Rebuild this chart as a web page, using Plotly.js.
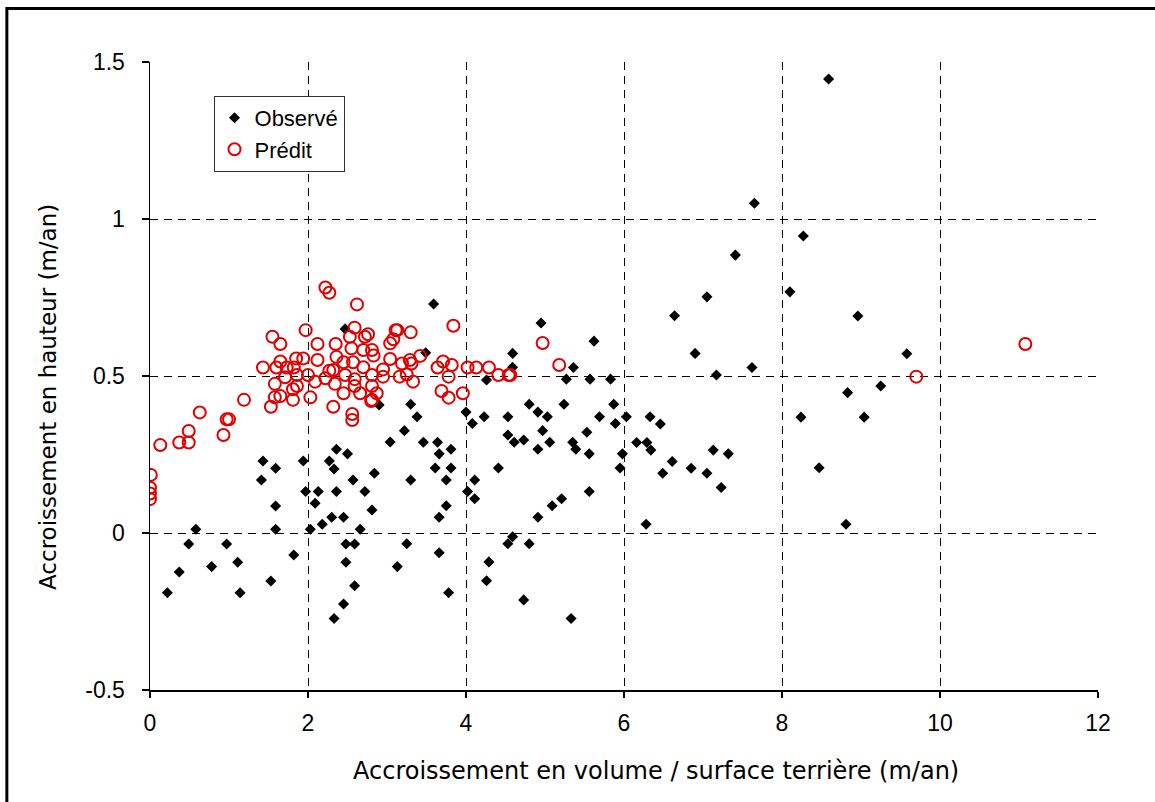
<!DOCTYPE html>
<html>
<head>
<meta charset="utf-8">
<script src="https://cdn.plot.ly/plotly-3.0.1.min.js"></script>
<style>html,body{margin:0;padding:0;background:#fff;}#chart{width:1155px;height:802px;}</style>
</head>
<body>
<div id="chart"></div>
<script>
// Observé (black diamonds)
const obsX = [1.43,1.59,1.94,2.27,2.36,2.50,2.33,1.41,1.97,2.13,2.36,2.57,2.72,2.84,1.59,2.09,2.30,2.45,2.81,2.18,
  0.58,1.59,2.03,2.66,0.49,0.97,2.48,2.59,1.82,0.37,0.78,1.11,2.48,1.53,2.59,0.22,1.14,2.45,2.33,2.90,
  3.04,4.26,3.30,3.38,3.22,3.46,3.64,3.66,3.81,3.61,3.81,3.30,3.75,4.00,4.08,4.23,4.53,4.80,4.91,5.03,
  5.24,5.69,5.87,5.89,6.03,4.53,4.61,4.73,4.97,5.06,4.91,5.35,5.39,5.53,5.56,5.98,5.95,4.41,4.11,4.02,
  4.11,3.75,3.66,5.21,5.09,4.91,5.56,3.25,3.66,3.13,3.78,4.29,4.26,4.53,4.80,4.59,4.73,5.33,
  7.05,6.64,5.62,6.90,7.62,7.17,5.36,5.27,5.57,5.83,6.33,6.46,6.16,6.29,6.34,6.61,6.49,6.85,7.05,7.13,
  7.32,7.23,6.28,7.65,7.41,8.27,8.59,8.10,8.96,8.24,8.83,9.25,9.58,9.04,8.47,8.81,4.95,3.59,4.59,4.59,
  3.49,2.47];
const obsY = [0.229,0.206,0.229,0.229,0.267,0.252,0.204,0.169,0.132,0.132,0.132,0.169,0.132,0.190,0.086,0.095,0.050,0.050,0.073,0.028,
  0.012,0.012,0.012,0.012,-0.035,-0.035,-0.035,-0.035,-0.070,-0.124,-0.107,-0.093,-0.093,-0.153,-0.168,-0.190,-0.190,-0.226,-0.272,0.408,
  0.290,0.487,0.410,0.370,0.326,0.289,0.289,0.252,0.267,0.207,0.207,0.169,0.169,0.385,0.349,0.370,0.370,0.410,0.385,0.370,
  0.410,0.370,0.410,0.349,0.370,0.312,0.289,0.296,0.326,0.289,0.267,0.289,0.267,0.321,0.252,0.252,0.207,0.207,0.169,0.132,
  0.109,0.087,0.050,0.109,0.087,0.050,0.132,-0.034,-0.063,-0.107,-0.190,-0.092,-0.152,-0.034,-0.034,-0.012,-0.213,-0.272,
  0.752,0.692,0.611,0.572,0.527,0.503,0.527,0.490,0.490,0.490,0.370,0.347,0.288,0.288,0.264,0.228,0.190,0.206,0.190,0.264,
  0.252,0.145,0.028,1.050,0.885,0.946,1.446,0.768,0.691,0.369,0.447,0.468,0.571,0.369,0.208,0.028,0.669,0.729,0.572,0.528,
  0.574,0.650];

// Prédit (red open circles)
const predX = [2.22,2.27,1.97,1.55,1.65,2.12,2.35,1.43,1.60,1.65,1.73,1.82,1.85,1.94,2.12,2.27,2.36,1.71,1.86,2.00,
  2.09,2.22,1.58,1.86,1.81,1.65,1.58,1.53,1.81,2.03,2.32,1.19,0.63,0.97,1.00,0.93,0.49,0.49,0.37,0.13,
  0.01,0.00,0.00,0.00,2.56,2.56,2.80,2.62,3.84,2.59,2.76,3.11,3.13,3.30,2.53,2.72,3.08,3.04,2.70,2.81,
  2.55,2.83,3.04,3.29,3.42,2.45,2.57,2.70,2.32,2.95,3.19,3.31,2.47,2.59,2.81,2.95,3.16,3.25,3.33,2.34,
  2.59,2.81,2.45,2.66,2.87,2.81,3.64,3.71,3.82,3.78,3.69,3.78,3.96,4.02,4.13,4.29,4.41,4.54,4.56,4.97,
  5.18,9.70,11.08];
const predY = [0.782,0.765,0.646,0.625,0.602,0.602,0.602,0.527,0.527,0.546,0.527,0.527,0.556,0.556,0.551,0.517,0.561,0.496,0.503,0.503,
  0.482,0.493,0.475,0.468,0.458,0.436,0.432,0.402,0.424,0.432,0.402,0.424,0.384,0.362,0.362,0.312,0.325,0.288,0.288,0.280,
  0.185,0.144,0.126,0.108,0.379,0.360,0.420,0.728,0.660,0.654,0.633,0.646,0.646,0.639,0.625,0.625,0.617,0.604,0.583,0.583,
  0.588,0.565,0.554,0.551,0.564,0.544,0.544,0.528,0.519,0.521,0.540,0.540,0.503,0.490,0.503,0.498,0.498,0.505,0.482,0.475,
  0.468,0.468,0.445,0.445,0.445,0.424,0.527,0.546,0.535,0.498,0.452,0.431,0.445,0.527,0.527,0.527,0.503,0.503,0.503,0.605,
  0.535,0.498,0.602];

const xTickVals = [0,2,4,6,8,10,12];
const xTickText = ["0","2","4","6","8","10","12"];
const yTickVals = [-0.5,0,0.5,1,1.5];
const yTickText = ["-0.5","0","0.5","1","1.5"];

const xTitle = "Accroissement en volume / surface terrière (m/an)";
const yTitle = "Accroissement en hauteur (m/an)";

const tickFont = {family: "Liberation Sans, Arial, sans-serif", size: 23, color: "#000"};

const traces = [
  {x: obsX, y: obsY, type: "scatter", mode: "markers", name: "Observé",
   marker: {symbol: "diamond", size: 8.5, color: "#000", line: {width: 0}}},
  {x: predX, y: predY, type: "scatter", mode: "markers", name: "Prédit",
   marker: {symbol: "circle-open", size: 12, color: "#e00000", line: {width: 2, color: "#e00000"}}}
];

const layout = {
  width: 1155, height: 802,
  margin: {l: 150, r: 57, t: 62, b: 112},
  paper_bgcolor: "#fff", plot_bgcolor: "#fff",
  showlegend: true,
  legend: {x: 0.067, y: 0.946, xanchor: "left", yanchor: "top",
    bgcolor: "#fff", bordercolor: "#333", borderwidth: 1,
    font: {family: "Liberation Sans, Arial, sans-serif", size: 22, color: "#000"},
    itemwidth: 30, tracegroupgap: 0},
  xaxis: {range: [0, 12], tickmode: "array", tickvals: xTickVals, ticktext: xTickText, tickfont: tickFont,
    showline: true, linecolor: "#000", linewidth: 1.5, mirror: false,
    ticks: "outside", ticklen: 6, tickcolor: "#000", tickwidth: 1.5,
    showgrid: true, gridcolor: "#000", gridwidth: 1, griddash: "8px,6px",
    zeroline: false, ticklabelstandoff: 6, fixedrange: true},
  yaxis: {range: [-0.5, 1.5], tickmode: "array", tickvals: yTickVals, ticktext: yTickText, tickfont: tickFont,
    showline: true, linecolor: "#000", linewidth: 1.5,
    ticks: "outside", ticklen: 7, tickcolor: "#000", tickwidth: 1.5,
    showgrid: true, gridcolor: "#000", gridwidth: 1, griddash: "8px,6px",
    zeroline: false, ticklabelstandoff: 12, fixedrange: true},
  annotations: [
    {text: xTitle, xref: "paper", yref: "paper", x: 0.534, y: -0.129, xanchor: "center", yanchor: "middle",
     showarrow: false, font: {family: "DejaVu Sans, sans-serif", size: 24, color: "#000"}},
    {text: yTitle, xref: "paper", yref: "paper", x: -0.1076, y: 0.4666, xanchor: "center", yanchor: "middle",
     textangle: -90, showarrow: false, font: {family: "DejaVu Sans, sans-serif", size: 23, color: "#000"}}
  ],
  shapes: [
    {type: "rect", xref: "paper", yref: "paper", x0: -0.151, x1: 1.08, y0: -0.2, y1: 1.085,
     line: {color: "#000", width: 3}, fillcolor: "rgba(0,0,0,0)", layer: "below"}
  ]
};

Plotly.newPlot("chart", traces, layout, {displayModeBar: false, staticPlot: true});
</script>
</body>
</html>
